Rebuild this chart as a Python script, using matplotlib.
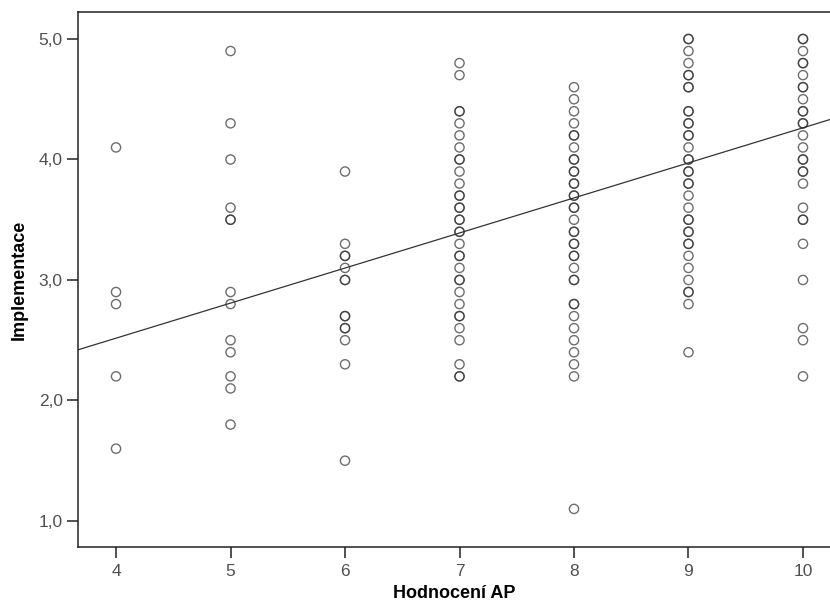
import numpy as np
import matplotlib
matplotlib.use("Agg")
import matplotlib.pyplot as plt

plt.rcParams['font.family'] = ['Liberation Sans', 'DejaVu Sans']

# values; repeated values = darker (overlapping) rings
ap_4 = [4.1, 2.9, 2.8, 2.2, 1.6]
ap_5 = [4.9, 4.3, 4.0, 3.6, 3.5, 3.5, 2.9, 2.8, 2.5, 2.4, 2.2, 2.1, 1.8]
ap_6 = [3.9, 3.3, 3.2, 3.2, 3.1, 3.0, 3.0, 2.7, 2.7, 2.6, 2.6, 2.5, 2.3, 1.5]
ap_7 = [4.8, 4.7, 4.4, 4.4, 4.3, 4.2, 4.1, 4.0, 4.0, 3.9, 3.8, 3.7, 3.7,
        3.6, 3.6, 3.5, 3.5, 3.4, 3.4, 3.3, 3.2, 3.2, 3.1, 3.0, 3.0, 2.9,
        2.8, 2.7, 2.7, 2.6, 2.5, 2.3, 2.2, 2.2]
ap_8 = [4.6, 4.5, 4.4, 4.3, 4.2, 4.2, 4.1, 4.0, 4.0, 3.9, 3.9, 3.8, 3.8,
        3.7, 3.7, 3.6, 3.6, 3.5, 3.4, 3.4, 3.3, 3.3, 3.2, 3.2, 3.1, 3.0,
        3.0, 2.8, 2.8, 2.7, 2.6, 2.5, 2.4, 2.3, 2.2, 1.1]
ap_9 = [5.0, 5.0, 4.9, 4.8, 4.7, 4.7, 4.6, 4.6, 4.4, 4.4, 4.3, 4.3, 4.2,
        4.2, 4.1, 4.0, 4.0, 3.9, 3.9, 3.8, 3.8, 3.7, 3.6, 3.5, 3.5, 3.4,
        3.4, 3.3, 3.3, 3.2, 3.1, 3.0, 2.9, 2.9, 2.8, 2.4]
ap_10 = [5.0, 5.0, 4.9, 4.8, 4.8, 4.7, 4.6, 4.6, 4.5, 4.4, 4.4, 4.3, 4.3,
         4.2, 4.1, 4.0, 4.0, 3.9, 3.9, 3.8, 3.6, 3.5, 3.5, 3.3, 3.0, 2.6,
         2.5, 2.2]
groups = {4: ap_4, 5: ap_5, 6: ap_6, 7: ap_7, 8: ap_8, 9: ap_9, 10: ap_10}

# fitted line as drawn in the chart
fit_intercept = 1.353
fit_slope = 0.291

x_ticks = [4, 5, 6, 7, 8, 9, 10]
y_ticks = [1.0, 2.0, 3.0, 4.0, 5.0]

fig = plt.figure(figsize=(8.3, 6.06), dpi=100)
ax = fig.add_axes([0.094, 0.0974, 0.906, 0.882])

xs = np.concatenate([[k] * len(v) for k, v in groups.items()])
ys = np.concatenate([v for v in groups.values()])
ax.scatter(xs, ys, s=44, facecolors='none', edgecolors='#303030',
           linewidths=1.0, alpha=0.7, zorder=3)

xlim = (3.668, 10.236)
lx = np.array(xlim)
ax.plot(lx, fit_intercept + fit_slope * lx, color='#333333', lw=0.9, zorder=2)

ax.set_xlim(*xlim)
ax.set_ylim(0.784, 5.22)
ax.set_xticks(x_ticks)
ax.set_yticks(y_ticks)
ax.set_yticklabels([f"{v:.1f}".replace('.', ',') for v in y_ticks])
ax.tick_params(direction='out', length=8, width=1.1, colors='#222222',
               labelsize=12.5, labelcolor='#505050', pad=3)
ax.tick_params(axis='x', pad=4.5)
for side in ['left', 'bottom', 'top']:
    ax.spines[side].set_linewidth(1.1)
    ax.spines[side].set_color('#222222')
ax.spines['right'].set_visible(False)

ax.set_xlabel('Hodnocení AP', fontsize=13, fontweight='bold', labelpad=4)
ax.set_ylabel('Implementace', fontsize=13, fontweight='bold', labelpad=8)

fig.savefig('out.png', dpi=100)
